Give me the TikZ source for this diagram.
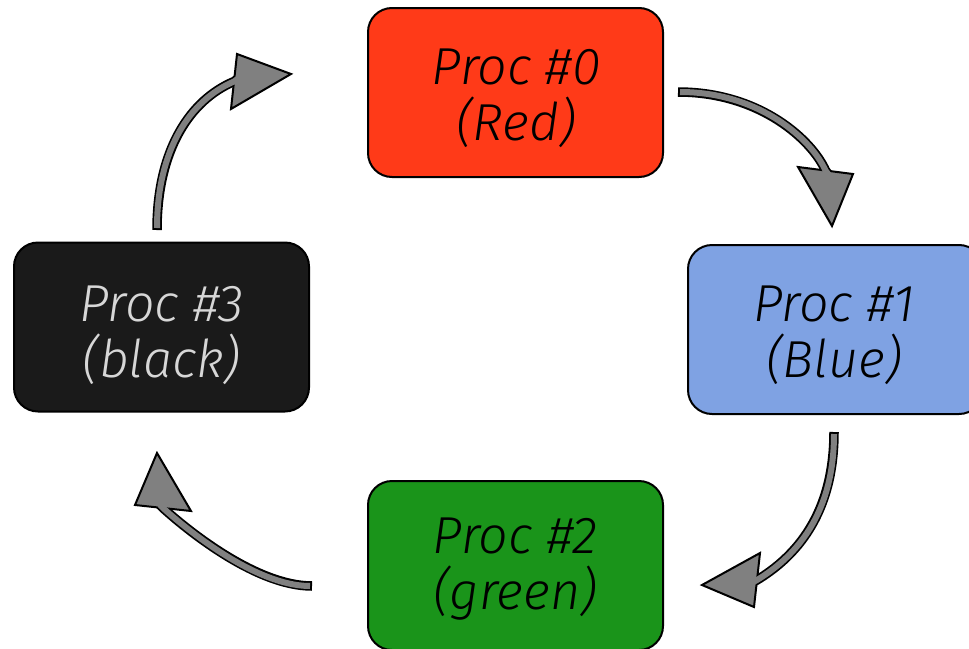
\documentclass[tikz,border=0pt]{standalone}
\usepackage{fontspec}
\newfontfamily\procfont{Fira Sans Light Italic}
\definecolor{procred}{RGB}{255,58,24}
\definecolor{procblue}{RGB}{127,162,227}
\definecolor{procgreen}{RGB}{26,148,26}
\definecolor{procblack}{RGB}{26,26,26}
\definecolor{lighttext}{RGB}{215,215,215}
\definecolor{arrowgray}{RGB}{128,128,128}
\begin{document}
\begin{tikzpicture}[x=1pt,y=-1pt,
  box/.style={draw=black, line width=2pt, rounded corners=24pt,
    minimum width=295pt, minimum height=169pt, inner sep=0pt},
  lbl/.style={align=center, inner sep=0pt,
    font=\procfont\fontsize{52}{56}\selectfont},
  shaftout/.style={draw=black, line width=9.5pt},
  shaftin/.style={draw=arrowgray, line width=6pt, shorten <=2pt},
  head/.style={fill=arrowgray, draw=black, line width=2pt, line join=miter}]
\useasboundingbox (0,0) rectangle (969,648);
\clip (0,0) rectangle (969,648);

% boxes
\node[box, fill=procred]   (b0) at (515.5,92.5) {};
\node[box, fill=procblue]  (b1) at (835.5,329.5) {};
\node[box, fill=procgreen] (b2) at (515.5,565.5) {};
\node[box, fill=procblack] (b3) at (161.5,327) {};

% labels
\node[lbl] (t0) at (516,98) {Proc \#0\\(Red)};
\node[lbl] (t1) at (834,335) {Proc \#1\\(Blue)};
\node[lbl] (t2) at (515,569) {Proc \#2\\(green)};
\node[lbl, text=lighttext] (t3) at (161.5,335) {Proc \#3\\(black)};

% arrow 0 -> 1
\coordinate (s01) at (678,92);
\coordinate (c01a) at (760,92);
\coordinate (c01b) at (812,140);
\coordinate (e01) at (825.5,170.5);
\coordinate (f01) at (828.5,174.5);
\coordinate (h01a) at (798,167);
\coordinate (h01b) at (853,174);
\coordinate (p01) at (832,226);
\draw[shaftout] (s01) .. controls (c01a) and (c01b) .. (e01) -- (f01);
\draw[head] (h01a) -- (p01) -- (h01b) -- cycle;
\draw[shaftin] (s01) .. controls (c01a) and (c01b) .. (e01) -- (f01);

% arrow 1 -> 2
\coordinate (s12) at (834,432);
\coordinate (c12a) at (834,515);
\coordinate (c12b) at (795,557);
\coordinate (e12) at (757,580);
\coordinate (f12) at (752.5,582.5);
\coordinate (h12a) at (760,553);
\coordinate (h12b) at (754,607);
\coordinate (p12) at (702,585);
\draw[shaftout] (s12) .. controls (c12a) and (c12b) .. (e12) -- (f12);
\draw[head] (h12a) -- (p12) -- (h12b) -- cycle;
\draw[shaftin] (s12) .. controls (c12a) and (c12b) .. (e12) -- (f12);

% arrow 2 -> 3
\coordinate (s23) at (312,586);
\coordinate (c23a) at (255,586);
\coordinate (c23b) at (185,528);
\coordinate (e23) at (163,508);
\coordinate (f23) at (159.5,504.5);
\coordinate (h23a) at (135,505);
\coordinate (h23b) at (191,511);
\coordinate (p23) at (157,453);
\draw[shaftout] (s23) .. controls (c23a) and (c23b) .. (e23) -- (f23);
\draw[head] (h23a) -- (p23) -- (h23b) -- cycle;
\draw[shaftin] (s23) .. controls (c23a) and (c23b) .. (e23) -- (f23);

% arrow 3 -> 0
\coordinate (s30) at (157,230);
\coordinate (c30a) at (157,150);
\coordinate (c30b) at (190,100);
\coordinate (e30) at (234,81.5);
\coordinate (f30) at (238,78.5);
\coordinate (h30a) at (237,54);
\coordinate (h30b) at (231,109);
\coordinate (p30) at (291,74);
\draw[shaftout] (s30) .. controls (c30a) and (c30b) .. (e30) -- (f30);
\draw[head] (h30a) -- (p30) -- (h30b) -- cycle;
\draw[shaftin] (s30) .. controls (c30a) and (c30b) .. (e30) -- (f30);
\end{tikzpicture}
\end{document}
